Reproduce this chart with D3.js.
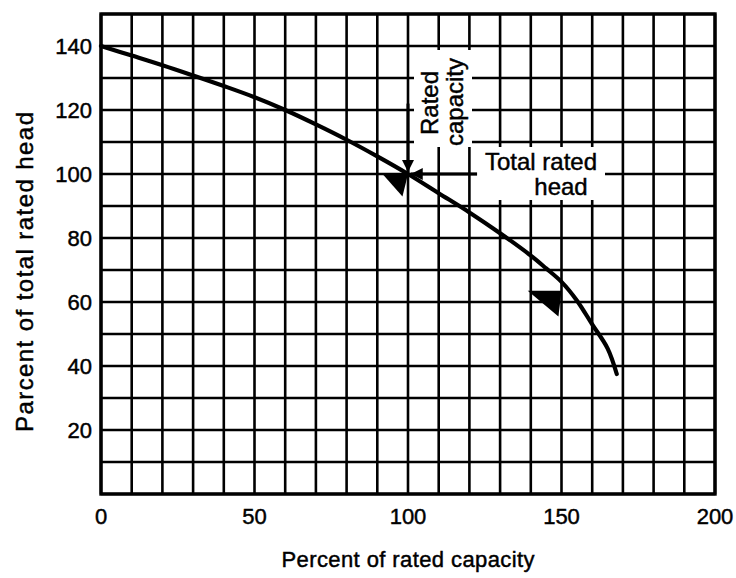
<!DOCTYPE html>
<html>
<head>
<meta charset="utf-8">
<script src="https://cdn.jsdelivr.net/npm/d3@7/dist/d3.min.js"></script>
<style>
  body { margin: 0; background: #fff; }
  text { font-family: "Liberation Sans", Arial, Helvetica, sans-serif; fill: #000; stroke: #000; stroke-width: 0.45px; }
</style>
</head>
<body>
<svg id="chart" width="736" height="578"></svg>
<script>
// pump curve (percent of rated capacity -> percent of rated head)
const capacity = [0, 10, 20, 30, 40, 50, 60, 70, 80, 90, 100, 110, 120, 130, 140, 145, 150, 155, 160, 165, 168];
const head     = [140, 137, 134, 130.8, 127.5, 124, 120, 115.5, 110.7, 105.5, 100, 94, 88, 81.5, 74.5, 70.5, 66.3, 60.5, 53, 45.5, 37.5];

const xTicks = [0, 50, 100, 150, 200];
const yTicks = [20, 40, 60, 80, 100, 120, 140];

// annotation marks, in data units
const wedgeRated = [[91.7, 100], [100, 100], [98.2, 93]];
const wedge150 = [[139, 63.5], [150, 63.5], [149, 55.5]];
const ratedArrow = [[100, 122], [100, 100.6]];
const headArrow = [[122.5, 100], [100.9, 100]];

const margin = {left: 101, right: 21, top: 14, bottom: 84};
const width = 736, height = 578;

const svg = d3.select('#chart');

const x = d3.scaleLinear().domain([0, 200]).range([margin.left, width - margin.right]);
const y = d3.scaleLinear().domain([0, 150]).range([height - margin.bottom, margin.top]);

// grid
const grid = svg.append('g').attr('stroke', '#000').attr('stroke-width', 2.6);
grid.selectAll('line.v')
  .data(d3.range(0, 201, 10))
  .join('line')
  .attr('class', 'v')
  .attr('x1', d => x(d)).attr('x2', d => x(d))
  .attr('y1', y(0)).attr('y2', y(150));
grid.selectAll('line.h')
  .data(d3.range(0, 151, 10))
  .join('line')
  .attr('class', 'h')
  .attr('x1', x(0)).attr('x2', x(200))
  .attr('y1', d => y(d)).attr('y2', d => y(d));

svg.append('rect')
  .attr('x', x(0)).attr('y', y(150))
  .attr('width', x(200) - x(0)).attr('height', y(0) - y(150))
  .attr('fill', 'none').attr('stroke', '#000').attr('stroke-width', 3.4);

// white patches behind the labels
svg.append('rect').attr('x', 414).attr('y', 50).attr('width', 58).attr('height', 97).attr('fill', '#fff');
svg.append('rect').attr('x', 477).attr('y', 147).attr('width', 128).attr('height', 53).attr('fill', '#fff');

// tick labels
svg.append('g').selectAll('text')
  .data(xTicks)
  .join('text')
  .attr('x', d => x(d))
  .attr('y', y(0) + 30)
  .attr('text-anchor', 'middle')
  .attr('font-size', 22)
  .text(d => d);

svg.append('g').selectAll('text')
  .data(yTicks)
  .join('text')
  .attr('x', x(0) - 9)
  .attr('y', d => y(d) + 8)
  .attr('text-anchor', 'end')
  .attr('font-size', 22)
  .text(d => d);

// axis titles
svg.append('text')
  .attr('x', (x(0) + x(200)) / 2)
  .attr('y', 567)
  .attr('text-anchor', 'middle')
  .attr('font-size', 22)
  .attr('textLength', 253)
  .attr('lengthAdjust', 'spacing')
  .text('Percent of rated capacity');

svg.append('text')
  .attr('transform', 'translate(33,272) rotate(-90)')
  .attr('text-anchor', 'middle')
  .attr('font-size', 24)
  .attr('textLength', 320)
  .attr('lengthAdjust', 'spacing')
  .text('Parcent of total rated head');

// curve
const line = d3.line()
  .x(d => x(d[0]))
  .y(d => y(d[1]))
  .curve(d3.curveCatmullRom);

svg.append('path')
  .datum(d3.zip(capacity, head))
  .attr('d', line)
  .attr('fill', 'none')
  .attr('stroke', '#000')
  .attr('stroke-width', 4.2)
  .attr('stroke-linecap', 'round');

// wedges
const tri = d3.line().x(d => x(d[0])).y(d => y(d[1]));
svg.selectAll('path.wedge')
  .data([wedgeRated, wedge150])
  .join('path')
  .attr('class', 'wedge')
  .attr('d', d => tri(d) + 'Z')
  .attr('fill', '#000');

// arrows
svg.append('defs').append('marker')
  .attr('id', 'arr')
  .attr('viewBox', '0 0 10 10')
  .attr('refX', 10).attr('refY', 5)
  .attr('markerWidth', 5).attr('markerHeight', 4)
  .attr('markerUnits', 'strokeWidth')
  .attr('orient', 'auto')
  .append('path')
  .attr('d', 'M0,0L10,5L0,10Z')
  .attr('fill', '#000');

svg.selectAll('path.arrow')
  .data([ratedArrow, headArrow])
  .join('path')
  .attr('class', 'arrow')
  .attr('d', d => tri(d))
  .attr('stroke', '#000')
  .attr('stroke-width', 3)
  .attr('marker-end', 'url(#arr)');

// annotation labels
svg.append('text')
  .attr('transform', 'translate(438,103) rotate(-90)')
  .attr('text-anchor', 'middle')
  .attr('font-size', 24)
  .text('Rated');
svg.append('text')
  .attr('transform', 'translate(463,102) rotate(-90)')
  .attr('text-anchor', 'middle')
  .attr('font-size', 24)
  .text('capacity');

svg.append('text')
  .attr('x', 541).attr('y', 170)
  .attr('text-anchor', 'middle')
  .attr('font-size', 24)
  .text('Total rated');
svg.append('text')
  .attr('x', 561).attr('y', 195)
  .attr('text-anchor', 'middle')
  .attr('font-size', 24)
  .text('head');
</script>
</body>
</html>
